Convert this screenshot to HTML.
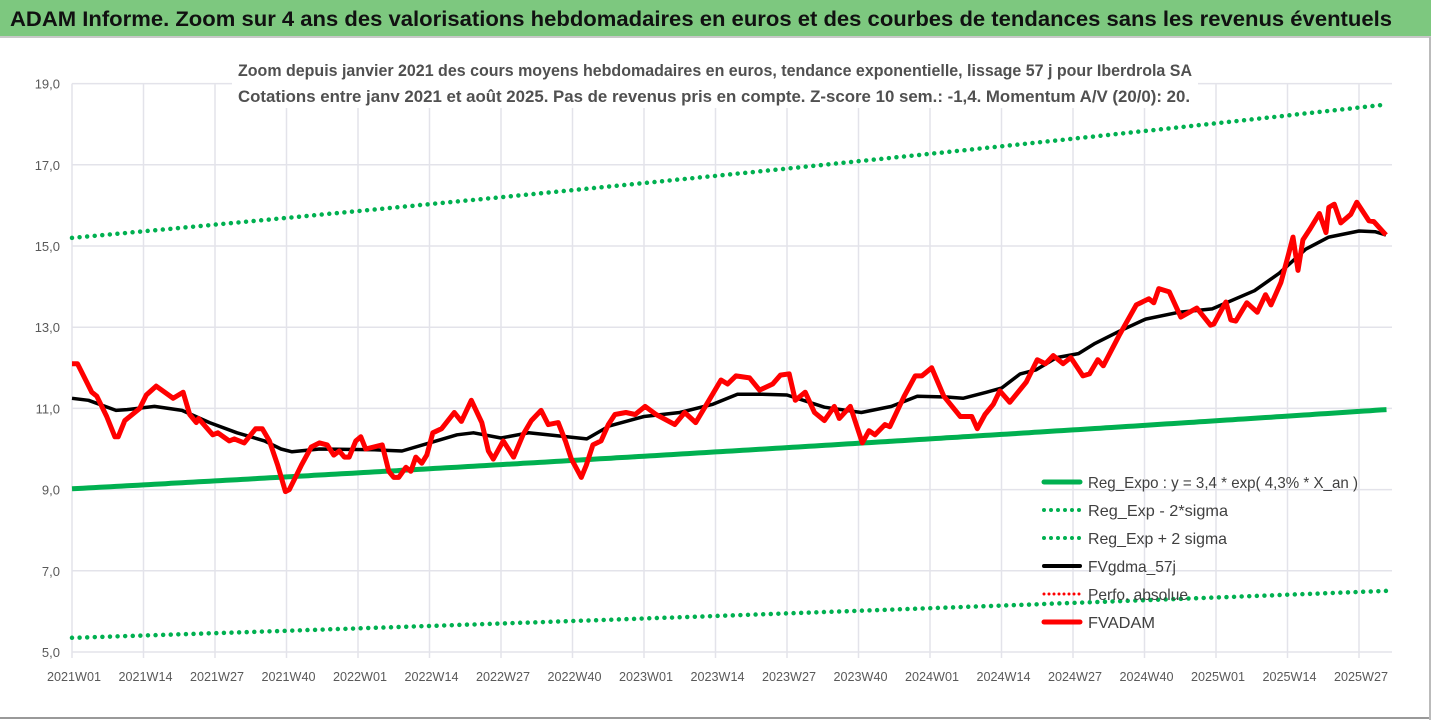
<!DOCTYPE html>
<html><head><meta charset="utf-8"><style>
html,body{margin:0;padding:0;background:#fff;}
svg{display:block;font-family:"Liberation Sans",sans-serif;}
</style></head><body>
<svg id="chart" width="1431" height="720" viewBox="0 0 1431 720" xmlns="http://www.w3.org/2000/svg">
<rect x="0" y="0" width="1431" height="720" fill="#fff"/>
<rect x="0" y="0" width="1431" height="37" fill="#7dc87f"/>
<line x1="0" y1="37" x2="1431" y2="37" stroke="#c8c8c8" stroke-width="2"/>
<text x="10" y="26" font-size="21" font-weight="bold" fill="#111" textLength="1382" lengthAdjust="spacingAndGlyphs">ADAM Informe. Zoom sur 4 ans des valorisations hebdomadaires en euros et des courbes de tendances sans les revenus éventuels</text>
<g id="grid"></g>
<rect x="232" y="56" width="966" height="52" fill="#fff"/>
<text x="238" y="76" font-size="17" font-weight="bold" fill="#505050" textLength="954" lengthAdjust="spacingAndGlyphs">Zoom depuis janvier 2021 des cours moyens hebdomadaires en euros, tendance exponentielle, lissage 57 j pour Iberdrola SA</text>
<text x="238" y="102" font-size="17" font-weight="bold" fill="#505050" textLength="952" lengthAdjust="spacingAndGlyphs">Cotations entre janv 2021 et août 2025. Pas de revenus pris en compte. Z-score 10 sem.: -1,4. Momentum A/V (20/0): 20.</text>
<g id="axes"></g>
<g id="series"></g>
<g id="legend"></g>
<line x1="0" y1="718" x2="1431" y2="718" stroke="#999" stroke-width="2"/>
<line x1="1430" y1="37" x2="1430" y2="720" stroke="#bbb" stroke-width="2"/>
</svg>
<script>
const yTicks = [5, 7, 9, 11, 13, 15, 17, 19];
const yTickLabels = ["5,0","7,0","9,0","11,0","13,0","15,0","17,0","19,0"];
const xTickWeeks = [0,13,26,39,52,65,78,91,104,117,130,143,156,169,182,195,208,221,234];
const xTickLabels = ["2021W01","2021W14","2021W27","2021W40","2022W01","2022W14","2022W27","2022W40","2023W01","2023W14","2023W27","2023W40","2024W01","2024W14","2024W27","2024W40","2025W01","2025W14","2025W27"];
const redWeeks = [0,1,3.6,4.5,6.3,7.8,8.4,9.6,12.3,13.5,15.3,18.4,20.2,21.4,22.6,23,25.6,26.5,28.6,29.5,31.3,33.4,34.6,35.9,37.4,38.8,39.5,40.8,41.7,43.5,45,46.4,47.6,48.6,49.5,50.4,51.6,52.5,53.4,56.4,57.6,58.5,59.4,60.7,61.6,62.5,63.6,64.5,65.6,67.2,69.5,70.8,72.6,74.5,75.7,76.6,78.4,80.3,82,83.5,85.3,86.6,88.4,89.7,90.8,92.6,93.5,94.7,96.2,97.5,98.7,100.7,102.4,104.2,106.2,109.6,111.4,113.4,115.6,118,119.2,120.7,123.2,125,127.4,128.8,130.4,131.5,133.3,135,136.8,138.6,139.5,141.5,143.7,144.9,146,147.8,148.7,151.3,153.3,154.5,156.3,158.5,161.5,163.6,164.6,166,167.5,168.7,170.5,173.5,175.5,177,178.4,180.2,181.6,183.8,185,186.5,187.5,190.4,193.5,195.8,196.7,197.6,199.5,201.6,204.5,207,207.6,209.8,210.7,211.6,213.6,215.5,217,218,219.8,221,222,222.9,223.8,225,226.8,228,228.5,229.5,230.7,232.5,233.6,235.8,236.7,238.9];
const redValues = [12.1,12.1,11.4,11.3,10.8,10.3,10.3,10.7,11.0,11.33,11.55,11.25,11.4,10.85,10.65,10.75,10.35,10.4,10.2,10.25,10.15,10.5,10.5,10.2,9.6,8.95,9.0,9.35,9.6,10.05,10.15,10.1,9.85,9.95,9.8,9.8,10.2,10.3,10.0,10.1,9.45,9.3,9.3,9.55,9.45,9.8,9.65,9.85,10.4,10.5,10.9,10.68,11.2,10.65,9.95,9.75,10.2,9.8,10.35,10.7,10.95,10.6,10.65,10.2,9.75,9.3,9.6,10.1,10.2,10.6,10.85,10.9,10.85,11.05,10.85,10.6,10.9,10.65,11.15,11.7,11.6,11.8,11.75,11.45,11.6,11.82,11.85,11.2,11.4,10.9,10.7,11.05,10.75,11.05,10.15,10.45,10.35,10.6,10.55,11.3,11.8,11.8,12.0,11.3,10.8,10.8,10.5,10.85,11.1,11.43,11.15,11.65,12.2,12.1,12.3,12.1,12.25,11.8,11.85,12.2,12.05,12.8,13.55,13.7,13.6,13.95,13.87,13.25,13.47,13.05,13.08,13.62,13.18,13.15,13.6,13.37,13.8,13.55,14.1,14.7,15.22,14.4,15.15,15.4,15.8,15.33,15.95,16.03,15.57,15.78,16.08,15.62,15.6,15.27];
const maWeeks = [0,3,8,10,15,20,25,30,35,38,40,45,55,60,65,70,73,78,83,88,93.6,97.7,104,110.5,116.5,121,125,130,136.8,143.5,149,153.7,159,162,166.3,169,172.4,175.3,179,183,186,190.4,195.2,201.3,207.3,215,219.5,224.3,228.5,234,237,238.9];
const maValues = [11.25,11.2,10.95,10.97,11.05,10.95,10.65,10.4,10.2,10.0,9.93,10.0,9.98,9.95,10.15,10.35,10.4,10.27,10.4,10.33,10.25,10.57,10.8,10.9,11.1,11.35,11.35,11.33,11.03,10.9,11.05,11.3,11.28,11.25,11.4,11.5,11.85,11.95,12.25,12.35,12.6,12.9,13.2,13.37,13.45,13.9,14.33,14.92,15.22,15.37,15.35,15.27];
const regStart = [9.02];
const regRate = [0.0426];
const sigmaFactors = [0.593, 1.685];
const lastWeek = [239];

const NS = "http://www.w3.org/2000/svg";
const X0 = 72, XW = 5.5, YB = 652, YU = 40.6;
function xs(w){ return X0 + w * XW; }
function ys(v){ return YB - (v - 5) * YU; }
function mk(tag, attrs, parent){ const e = document.createElementNS(NS, tag); for (const k in attrs) e.setAttribute(k, attrs[k]); parent.appendChild(e); return e; }
const grid = document.getElementById('grid'), axes = document.getElementById('axes'), series = document.getElementById('series'), legend = document.getElementById('legend');

yTicks.forEach((t, i) => {
  const l = mk('line', {x1: X0, x2: 1392, y1: ys(t), y2: ys(t), stroke: '#e3e3ea', 'stroke-width': 1.5}, grid);
  
  
  const tx = mk('text', {x: 60, y: ys(t) + 5, 'text-anchor': 'end', 'font-size': 13, fill: '#595959'}, axes);
  tx.textContent = yTickLabels[i];
  
  
});
xTickWeeks.forEach((w, i) => {
  const l = mk('line', {x1: xs(w), x2: xs(w), y1: ys(19), y2: YB + 6, stroke: '#e3e3ea', 'stroke-width': 1.5}, grid);
  
  
  const tx = mk('text', {x: xs(w) + 2, y: 681, 'text-anchor': 'middle', 'font-size': 13, fill: '#595959', textLength: 54, lengthAdjust: 'spacingAndGlyphs'}, axes);
  tx.textContent = xTickLabels[i];
  
  
});

function pathFrom(ws, vs){ return ws.map((w, i) => (i ? 'L' : 'M') + xs(w).toFixed(1) + ' ' + ys(vs[i]).toFixed(1)).join(' '); }
function regPath(f){ const ws = [], vs = []; for (let w = 0; w <= lastWeek[0]; w += 1){ ws.push(w); vs.push(f * regStart[0] * Math.exp(regRate[0] * w / 52)); } return pathFrom(ws, vs); }

const dot = {fill: 'none', 'stroke-width': 4.5, 'stroke-linecap': 'round', 'stroke-dasharray': '0 7.6'};
const lo = mk('path', Object.assign({d: regPath(sigmaFactors[0]), stroke: '#00b050'}, dot), series);


const hi = mk('path', Object.assign({d: regPath(sigmaFactors[1]), stroke: '#00b050'}, dot), series);


const reg = mk('path', {d: regPath(1), stroke: '#00b050', 'stroke-width': 5, fill: 'none'}, series);


const ma = mk('path', {d: pathFrom(maWeeks, maValues), stroke: '#000', 'stroke-width': 3.5, fill: 'none', 'stroke-linejoin': 'round'}, series);


const red = mk('path', {d: pathFrom(redWeeks, redValues), stroke: '#ff0000', 'stroke-width': 5, fill: 'none', 'stroke-linejoin': 'round'}, series);



const legItems = [
  {t: 'Reg_Expo : y = 3,4 * exp( 4,3% *  X_an )', c: '#00b050', d: false, w: 5, n: 'legend-reg-expo', tl: 270},
  {t: 'Reg_Exp - 2*sigma', c: '#00b050', d: true, w: 4, n: 'legend-minus-2-sigma', tl: 140},
  {t: 'Reg_Exp + 2 sigma', c: '#00b050', d: true, w: 4, n: 'legend-plus-2-sigma', tl: 139},
  {t: 'FVgdma_57j', c: '#000', d: false, w: 4, n: 'legend-fvgdma', tl: 88},
  {t: 'Perfo. absolue', c: '#ff0000', d: true, w: 3, n: 'legend-perfo-absolue', tl: 100},
  {t: 'FVADAM', c: '#ff0000', d: false, w: 5, n: 'legend-fvadam', tl: 67}
];
legItems.forEach((it, i) => {
  const y = 482 + i * 28;
  const g = mk('g', {}, legend);
  
  
  const a = {x1: 1044, x2: 1080, y1: y, y2: y, stroke: it.c, 'stroke-width': it.w, 'stroke-linecap': 'round'};
  if (it.d) a['stroke-dasharray'] = it.c === '#ff0000' ? '0 5' : '0 7';
  mk('line', a, g);
  const tx = mk('text', {x: 1088, y: y + 6, 'font-size': 16, fill: '#404040', textLength: it.tl, lengthAdjust: 'spacingAndGlyphs'}, g);
  tx.textContent = it.t;
});
</script>
</body></html>
